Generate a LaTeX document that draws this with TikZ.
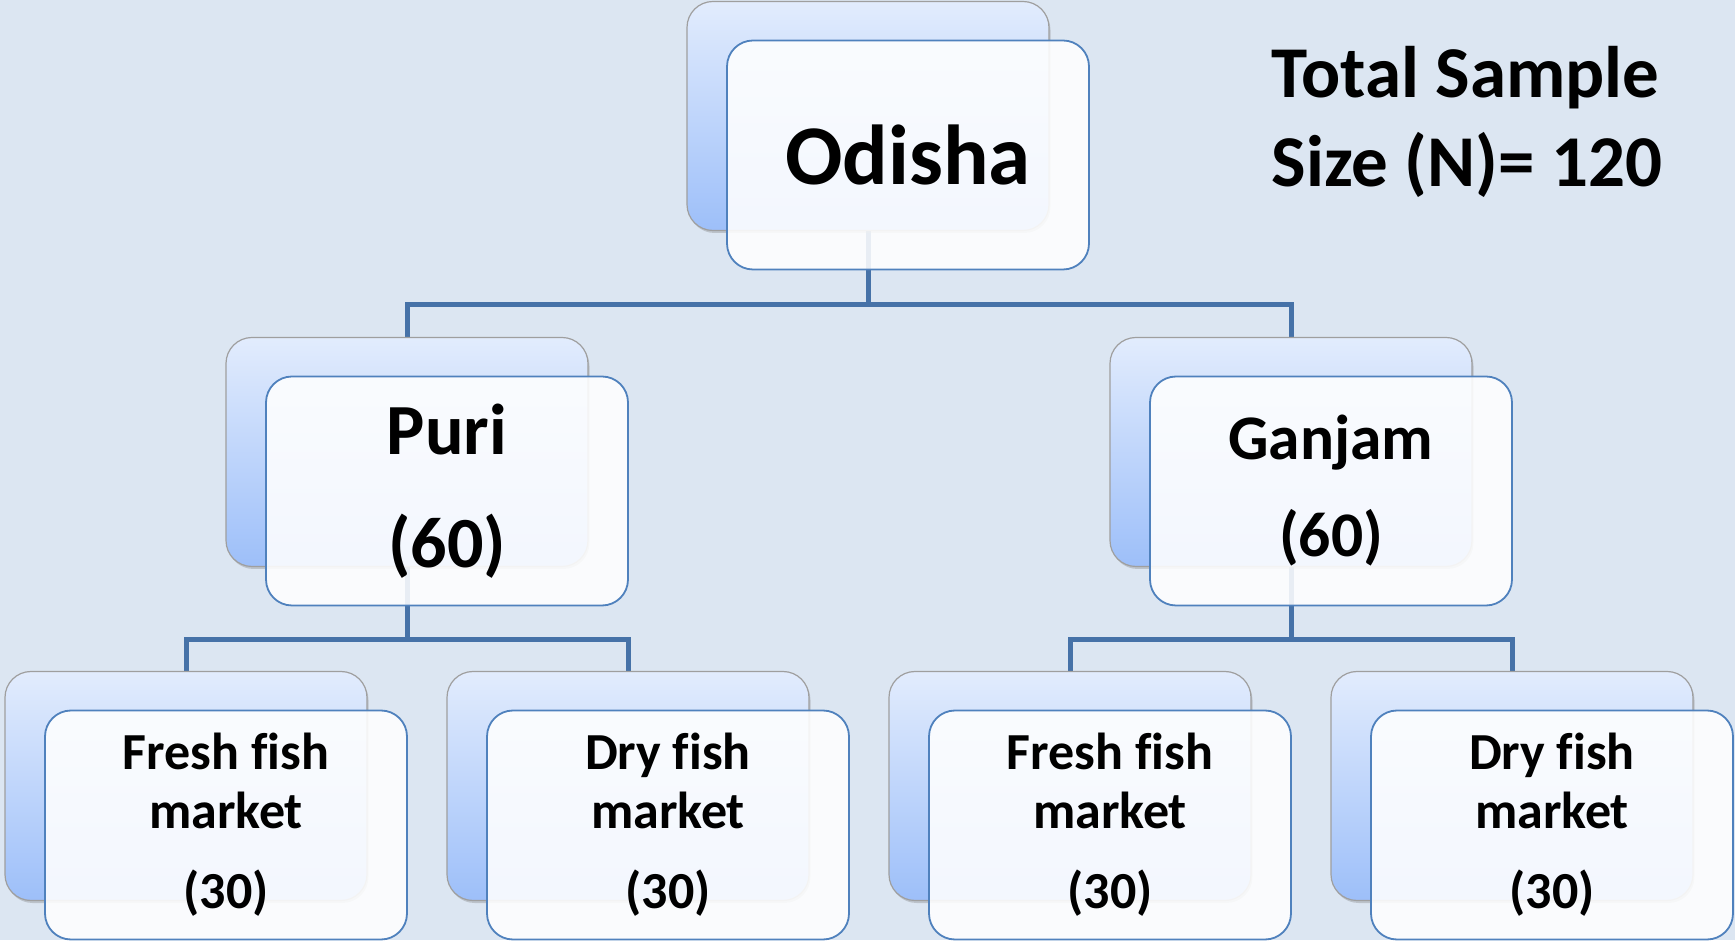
\documentclass[tikz,border=0pt]{standalone}
\usepackage{fontspec}
\setmainfont{Carlito}[Ligatures=NoCommon]
\usetikzlibrary{positioning,backgrounds,shadows}

\definecolor{bgblue}{RGB}{220,230,242}
\definecolor{linkblue}{RGB}{70,114,168}
\definecolor{frameblue}{RGB}{79,129,189}
\definecolor{shadetop}{RGB}{226,236,253}
\definecolor{shadebot}{RGB}{157,191,249}

\tikzstyle{backbox} = [rectangle, rounded corners=26pt, draw=gray!75, line width=1.2pt,
top color=shadetop, bottom color=shadebot, minimum width=362pt, minimum height=229pt,
inner sep=0pt, outer sep=0pt, drop shadow={shadow xshift=1.5pt, shadow yshift=-2.5pt, opacity=0.35}]
\tikzstyle{frontbox} = [rectangle, rounded corners=26pt, draw=frameblue, line width=1.8pt,
fill=white, fill opacity=0.88, text opacity=1, text=black, align=center,
minimum width=362pt, minimum height=229pt, inner sep=0pt, outer sep=0pt]
\tikzstyle{conn} = [draw=linkblue, line width=5pt]

\begin{document}
\begin{tikzpicture}[x=1pt, y=1pt]
\useasboundingbox (0,0) rectangle (1735,940);

% state level =============================
\node[backbox] (odishaB) at (868,824) {};
\node[frontbox, xshift=40pt, yshift=-39pt, font=\bfseries\fontsize{85}{100}\selectfont] (odisha) at (odishaB) {Odisha};

\node[font=\bfseries\fontsize{73}{89}\selectfont, align=left, anchor=base west] (total) at (1268,753) {Total Sample\\Size (N)= 120};

% district level =============================
\node[backbox, below left=107pt and 99pt of odishaB] (puriB) {};
\node[frontbox, xshift=40pt, yshift=-39pt, font=\bfseries\fontsize{72}{113}\selectfont] (puri) at (puriB) {Puri\\(60)};

\node[backbox, below right=107pt and 61pt of odishaB] (ganjamB) {};
\node[frontbox, xshift=40pt, yshift=-39pt, font=\bfseries\fontsize{63.5}{97}\selectfont] (ganjam) at (ganjamB) {Ganjam\\(60)};

% market level =============================
\node[backbox, below=105pt of puriB, xshift=-221pt] (pfreshB) {};
\node[frontbox, xshift=40pt, yshift=-39pt, font=\bfseries\fontsize{52}{59}\selectfont] (pfresh) at (pfreshB) {Fresh fish\\market\\[21pt](30)};

\node[backbox, right=80pt of pfreshB] (pdryB) {};
\node[frontbox, xshift=40pt, yshift=-39pt, font=\bfseries\fontsize{52}{59}\selectfont] (pdry) at (pdryB) {Dry fish\\market\\[21pt](30)};

\node[backbox, right=80pt of pdryB] (gfreshB) {};
\node[frontbox, xshift=40pt, yshift=-39pt, font=\bfseries\fontsize{52}{59}\selectfont] (gfresh) at (gfreshB) {Fresh fish\\market\\[21pt](30)};

\node[backbox, right=80pt of gfreshB] (gdryB) {};
\node[frontbox, xshift=40pt, yshift=-39pt, font=\bfseries\fontsize{52}{59}\selectfont] (gdry) at (gdryB) {Dry fish\\market\\[21pt](30)};

% edges
\begin{scope}[on background layer]
\fill[bgblue] (0,0) rectangle (1735,940);
\path[conn] (odishaB.south) -- ++(0,-74pt) -| (puriB.north);
\path[conn] (odishaB.south) -- ++(0,-74pt) -| (ganjamB.north);
\path[conn] (puriB.south) -- ++(0,-73pt) -| (pfreshB.north);
\path[conn] (puriB.south) -- ++(0,-73pt) -| (pdryB.north);
\path[conn] (ganjamB.south) -- ++(0,-73pt) -| (gfreshB.north);
\path[conn] (ganjamB.south) -- ++(0,-73pt) -| (gdryB.north);
\end{scope}

\end{tikzpicture}
\end{document}
